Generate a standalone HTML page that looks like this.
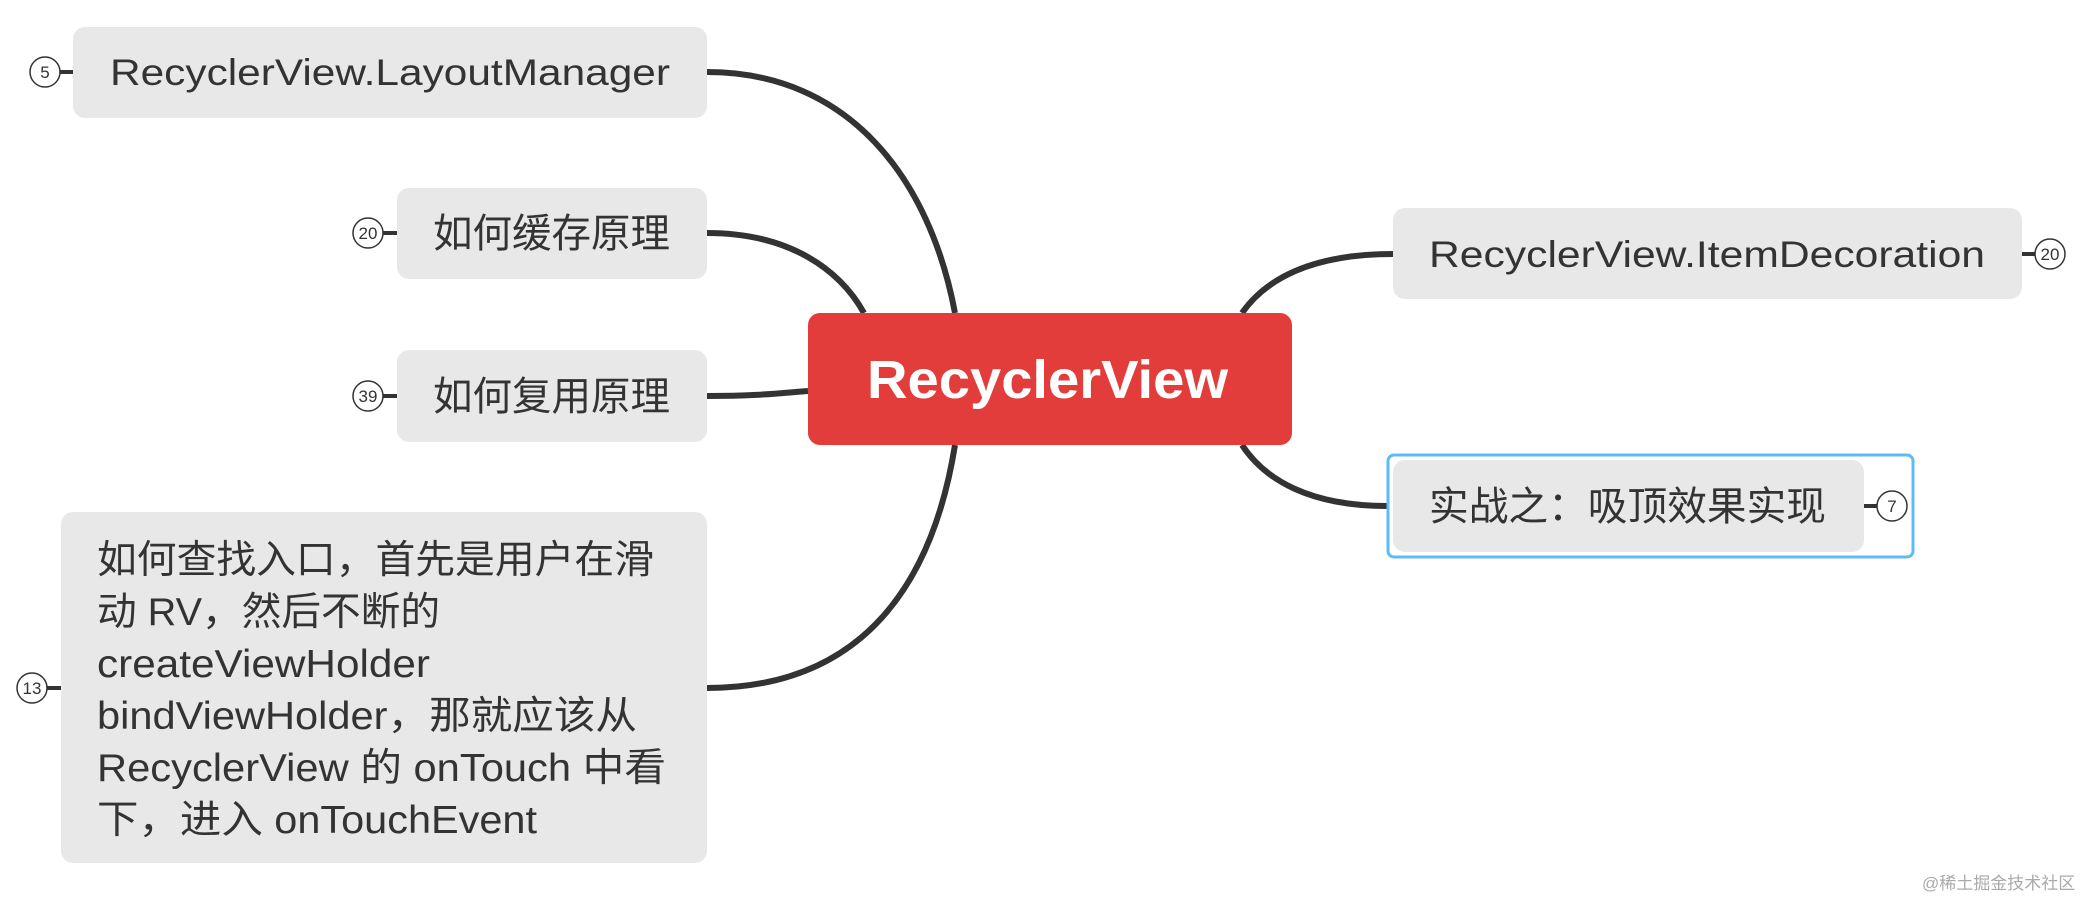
<!DOCTYPE html>
<html><head><meta charset="utf-8"><style>
html,body{margin:0;padding:0;background:#fff;}
svg{display:block}
text{font-family:"Liberation Sans","Noto Sans CJK SC",sans-serif;fill:#333;}
.c{font-size:17px;text-anchor:middle;}
</style></head><body>
<svg width="2090" height="900" viewBox="0 0 2090 900" xmlns="http://www.w3.org/2000/svg">
<g fill="none" stroke="#333" stroke-width="6" stroke-linecap="butt">
<path d="M707 72 C 850 72, 930 180, 955 313"/>
<path d="M707 233 C 790 233, 840 270, 864 313"/>
<path d="M707 396 C 760 396, 780 393, 808 391"/>
<path d="M707 688 C 850 688, 930 600, 955 445"/>
<path d="M1393 254 C 1310 254, 1265 280, 1242 313"/>
<path d="M1387 506 C 1310 506, 1265 480, 1242 445"/>
</g>
<g stroke="#333" stroke-width="4">
<line x1="60" y1="72" x2="75" y2="72"/>
<line x1="383" y1="233" x2="397" y2="233"/>
<line x1="383" y1="396" x2="397" y2="396"/>
<line x1="47" y1="688" x2="61" y2="688"/>
<line x1="2022" y1="254" x2="2035" y2="254"/>
<line x1="1864" y1="506" x2="1877" y2="506"/>
</g>
<g fill="#fff" stroke="#333" stroke-width="1.5">
<circle cx="45" cy="72" r="15"/>
<circle cx="368" cy="233" r="15"/>
<circle cx="368" cy="396" r="15"/>
<circle cx="32" cy="688" r="15"/>
<circle cx="2050" cy="254" r="15"/>
<circle cx="1892" cy="506" r="15"/>
</g>
<text class="c" x="45" y="78">5</text>
<text class="c" x="368" y="239">20</text>
<text class="c" x="368" y="402">39</text>
<text class="c" x="32" y="694">13</text>
<text class="c" x="2050" y="260">20</text>
<text class="c" x="1892" y="512">7</text>

<rect x="73" y="27" width="634" height="91" rx="12" fill="#e8e8e8"/>
<text x="110" y="85" font-size="37" textLength="560" lengthAdjust="spacingAndGlyphs">RecyclerView.LayoutManager</text>

<rect x="397" y="188" width="310" height="91" rx="12" fill="#e8e8e8"/>
<text x="433" y="247" font-size="40" textLength="237" lengthAdjust="spacingAndGlyphs">如何缓存原理</text>

<rect x="397" y="350" width="310" height="92" rx="12" fill="#e8e8e8"/>
<text x="433" y="410" font-size="40" textLength="237" lengthAdjust="spacingAndGlyphs">如何复用原理</text>

<rect x="61" y="512" width="646" height="351" rx="12" fill="#e8e8e8"/>
<g font-size="39">
<text x="97" y="573" textLength="557" lengthAdjust="spacingAndGlyphs">如何查找入口，首先是用户在滑</text>
<text x="97" y="625" textLength="343" lengthAdjust="spacingAndGlyphs">动 RV，然后不断的</text>
<text x="97" y="677" textLength="333" lengthAdjust="spacingAndGlyphs">createViewHolder</text>
<text x="97" y="729" textLength="540" lengthAdjust="spacingAndGlyphs">bindViewHolder，那就应该从</text>
<text x="97" y="781" textLength="569" lengthAdjust="spacingAndGlyphs">RecyclerView 的 onTouch 中看</text>
<text x="97" y="833" textLength="440" lengthAdjust="spacingAndGlyphs">下，进入 onTouchEvent</text>
</g>

<rect x="808" y="313" width="484" height="132" rx="12" fill="#e33d3b"/>
<text x="867" y="398" font-size="54" font-weight="bold" style="fill:#fff" textLength="361" lengthAdjust="spacingAndGlyphs">RecyclerView</text>

<rect x="1393" y="208" width="629" height="91" rx="12" fill="#e8e8e8"/>
<text x="1429" y="267" font-size="37" textLength="556" lengthAdjust="spacingAndGlyphs">RecyclerView.ItemDecoration</text>

<rect x="1388" y="455" width="525" height="102" rx="6" fill="none" stroke="#5dbcf5" stroke-width="3"/>
<rect x="1393" y="460" width="471" height="92" rx="12" fill="#e8e8e8"/>
<text x="1429" y="520" font-size="40" textLength="397" lengthAdjust="spacingAndGlyphs">实战之：吸顶效果实现</text>

<text x="1922" y="889" font-size="17" style="fill:#aaa">@稀土掘金技术社区</text>
</svg>
</body></html>
